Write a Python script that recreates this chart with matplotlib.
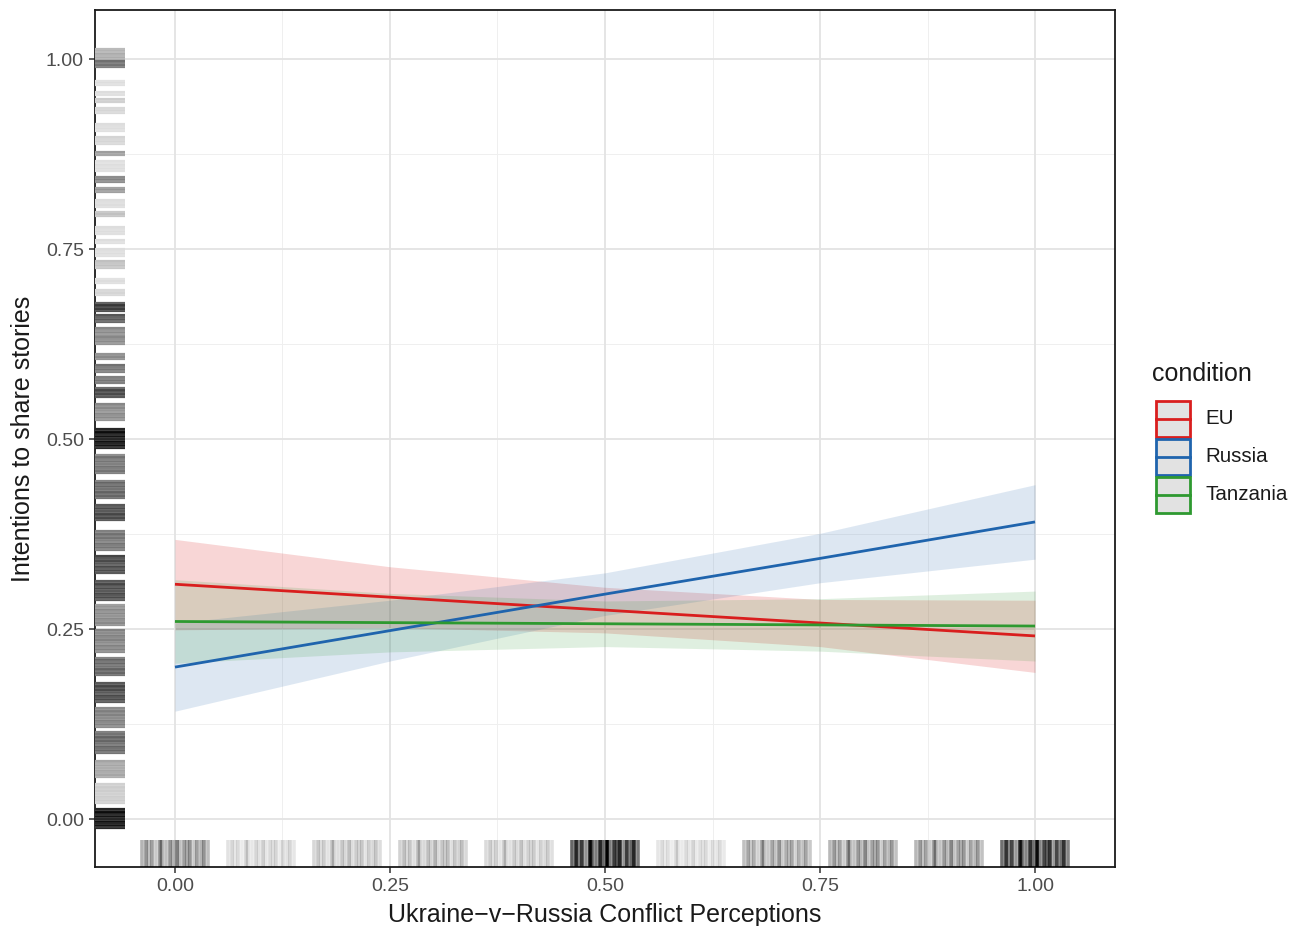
import numpy as np
import matplotlib
matplotlib.use("Agg")
import matplotlib.pyplot as plt
import matplotlib.transforms as mtransforms
from matplotlib.patches import Rectangle

plt.rcParams['font.family'] = ['Liberation Sans', 'DejaVu Sans']

# ---------------- data ----------------
conditions = ["EU", "Russia", "Tanzania"]
line_colors = ["#D91E1E", "#1F64AD", "#2E9930"]
x_knots = [0.0, 0.25, 0.5, 0.75, 1.0]
fit_eu = [0.309, 0.292, 0.275, 0.258, 0.241]
lo_eu = [0.249, 0.252, 0.245, 0.227, 0.193]
hi_eu = [0.368, 0.332, 0.305, 0.289, 0.288]
fit_ru = [0.200, 0.248, 0.296, 0.343, 0.391]
lo_ru = [0.142, 0.208, 0.268, 0.311, 0.342]
hi_ru = [0.258, 0.288, 0.324, 0.376, 0.440]
fit_tz = [0.260, 0.2585, 0.257, 0.2555, 0.254]
lo_tz = [0.205, 0.220, 0.227, 0.221, 0.208]
hi_tz = [0.315, 0.297, 0.287, 0.290, 0.300]

# rug on x: cluster centres and darkness
x_rug_centres = [0.0, 0.1, 0.2, 0.3, 0.4, 0.5, 0.6, 0.7, 0.8, 0.9, 1.0]
x_rug_dark = [0.42, 0.16, 0.22, 0.25, 0.20, 0.85, 0.14, 0.35, 0.40, 0.40, 0.80]
x_rug_offsets = [-0.038, -0.034, -0.030, -0.027, -0.022, -0.018, -0.015, -0.011,
                 -0.006, -0.002, 0.002, 0.006, 0.010, 0.014, 0.018, 0.022,
                 0.026, 0.030, 0.034, 0.038]
x_rug_weights = [0.7, 1.0, 0.6, 0.9, 0.5, 1.1, 0.8, 0.6, 1.0, 0.7, 1.2, 0.6,
                 0.9, 0.8, 1.0, 0.5, 0.9, 0.7, 1.0, 0.6]

# rug on y: bands (low, high, darkness)
y_rug_bands = [
    (0.999, 1.014, 0.30), (0.989, 0.999, 0.50), (0.966, 0.972, 0.12),
    (0.953, 0.957, 0.12), (0.944, 0.948, 0.18), (0.929, 0.937, 0.15),
    (0.905, 0.915, 0.12), (0.888, 0.898, 0.15), (0.874, 0.878, 0.35),
    (0.853, 0.866, 0.12), (0.838, 0.846, 0.45), (0.825, 0.832, 0.38),
    (0.805, 0.815, 0.12), (0.793, 0.800, 0.22), (0.770, 0.780, 0.12),
    (0.758, 0.763, 0.12), (0.741, 0.750, 0.12), (0.725, 0.735, 0.22),
    (0.705, 0.712, 0.12), (0.689, 0.697, 0.15), (0.668, 0.680, 0.70),
    (0.654, 0.664, 0.60), (0.637, 0.647, 0.42), (0.625, 0.634, 0.42),
    (0.605, 0.613, 0.42), (0.588, 0.598, 0.50), (0.574, 0.582, 0.50),
    (0.556, 0.568, 0.65), (0.525, 0.547, 0.42), (0.488, 0.514, 0.85),
    (0.455, 0.480, 0.50), (0.422, 0.446, 0.55), (0.393, 0.413, 0.65),
    (0.354, 0.380, 0.50), (0.324, 0.347, 0.65), (0.288, 0.314, 0.65),
    (0.255, 0.282, 0.42), (0.220, 0.249, 0.45), (0.189, 0.213, 0.55),
    (0.154, 0.180, 0.65), (0.121, 0.147, 0.45), (0.087, 0.114, 0.55),
    (0.055, 0.078, 0.32), (0.021, 0.047, 0.18), (-0.012, 0.014, 0.85),
]
y_stripe_pattern = [1.0, 0.9, 1.1, 0.95, 1.0, 1.12, 0.88]

tick_vals = [0.0, 0.25, 0.5, 0.75, 1.0]
tick_labels = ["0.00", "0.25", "0.50", "0.75", "1.00"]

# ---------------- figure ----------------
W, H = 1303, 926
fig = plt.figure(figsize=(W / 100, H / 100), dpi=100)
ax = fig.add_axes([95 / W, 1 - 867 / H, (1115 - 95) / W, (867 - 10) / H])
ax.set_xlim(-0.093, 1.093)
ax.set_ylim(-0.063, 1.0645)

# grid
for v in [0.125, 0.375, 0.625, 0.875]:
    ax.axvline(v, color="#EFEFEF", lw=0.7, zorder=0)
    ax.axhline(v, color="#EFEFEF", lw=0.7, zorder=0)
for v in tick_vals:
    ax.axvline(v, color="#E3E3E3", lw=1.3, zorder=0)
    ax.axhline(v, color="#E3E3E3", lw=1.3, zorder=0)

# ribbons and lines
fits = [fit_eu, fit_ru, fit_tz]
los = [lo_eu, lo_ru, lo_tz]
his = [hi_eu, hi_ru, hi_tz]
fill_alphas = [0.18, 0.15, 0.15]
for c, a, lo, hi in zip(line_colors, fill_alphas, los, his):
    ax.fill_between(x_knots, lo, hi, color=c, alpha=a, lw=0, zorder=2)
for c, f in zip(line_colors, fits):
    ax.plot(x_knots, f, color=c, lw=2.0, zorder=3, solid_capstyle="butt")

# x rug
trans_x = mtransforms.blended_transform_factory(ax.transData, ax.transAxes)
for c, d in zip(x_rug_centres, x_rug_dark):
    for o, w in zip(x_rug_offsets, x_rug_weights):
        a = min(1.0, d * w)
        ax.plot([c + o, c + o], [0, 0.031], transform=trans_x,
                color="black", alpha=a, lw=2.6, solid_capstyle="butt", zorder=4)

# y rug
trans_y = mtransforms.blended_transform_factory(ax.transAxes, ax.transData)
for lo, hi, d in y_rug_bands:
    ys = np.arange(lo, hi + 1e-9, 0.0018)
    for i, yv in enumerate(ys):
        w = y_stripe_pattern[i % len(y_stripe_pattern)]
        g = max(0.0, 1 - min(1.0, d * w))
        ax.plot([0, 0.029], [yv, yv], transform=trans_y,
                color=(g, g, g), lw=1.6, solid_capstyle="butt", zorder=4)

# axes styling
ax.set_xticks(tick_vals)
ax.set_xticklabels(tick_labels)
ax.set_yticks(tick_vals)
ax.set_yticklabels(tick_labels)
ax.tick_params(axis="both", length=4, width=1.1, color="#333333",
               labelsize=14, labelcolor="#4D4D4D", pad=4)
for s in ax.spines.values():
    s.set_color("#1A1A1A")
    s.set_linewidth(1.3)
ax.set_xlabel("Ukraine\u2212v\u2212Russia Conflict Perceptions", fontsize=18,
              color="#1A1A1A", labelpad=6)
ax.set_ylabel("Intentions to share stories", fontsize=18, color="#1A1A1A",
              labelpad=8)

# legend (drawn in pixel coordinates)
lax = fig.add_axes([0, 0, 1, 1], zorder=10)
lax.set_xlim(0, W)
lax.set_ylim(H, 0)
lax.axis("off")
lax.text(1152, 374, "condition", fontsize=18, color="#1A1A1A",
         va="center", ha="left")
key_top = 400
key_h = 38
for i, (name, c) in enumerate(zip(conditions, line_colors)):
    y0 = key_top + i * key_h
    lax.add_patch(Rectangle((1156, y0 + 1), 34, key_h - 2, facecolor="#E2E2E2",
                            edgecolor=c, lw=2.0))
    lax.plot([1156, 1190], [y0 + key_h / 2, y0 + key_h / 2], color=c, lw=2.0)
    lax.text(1205, y0 + key_h / 2, name, fontsize=14.8, color="#1A1A1A",
             va="center", ha="left")

fig.savefig("out.png", dpi=100)
